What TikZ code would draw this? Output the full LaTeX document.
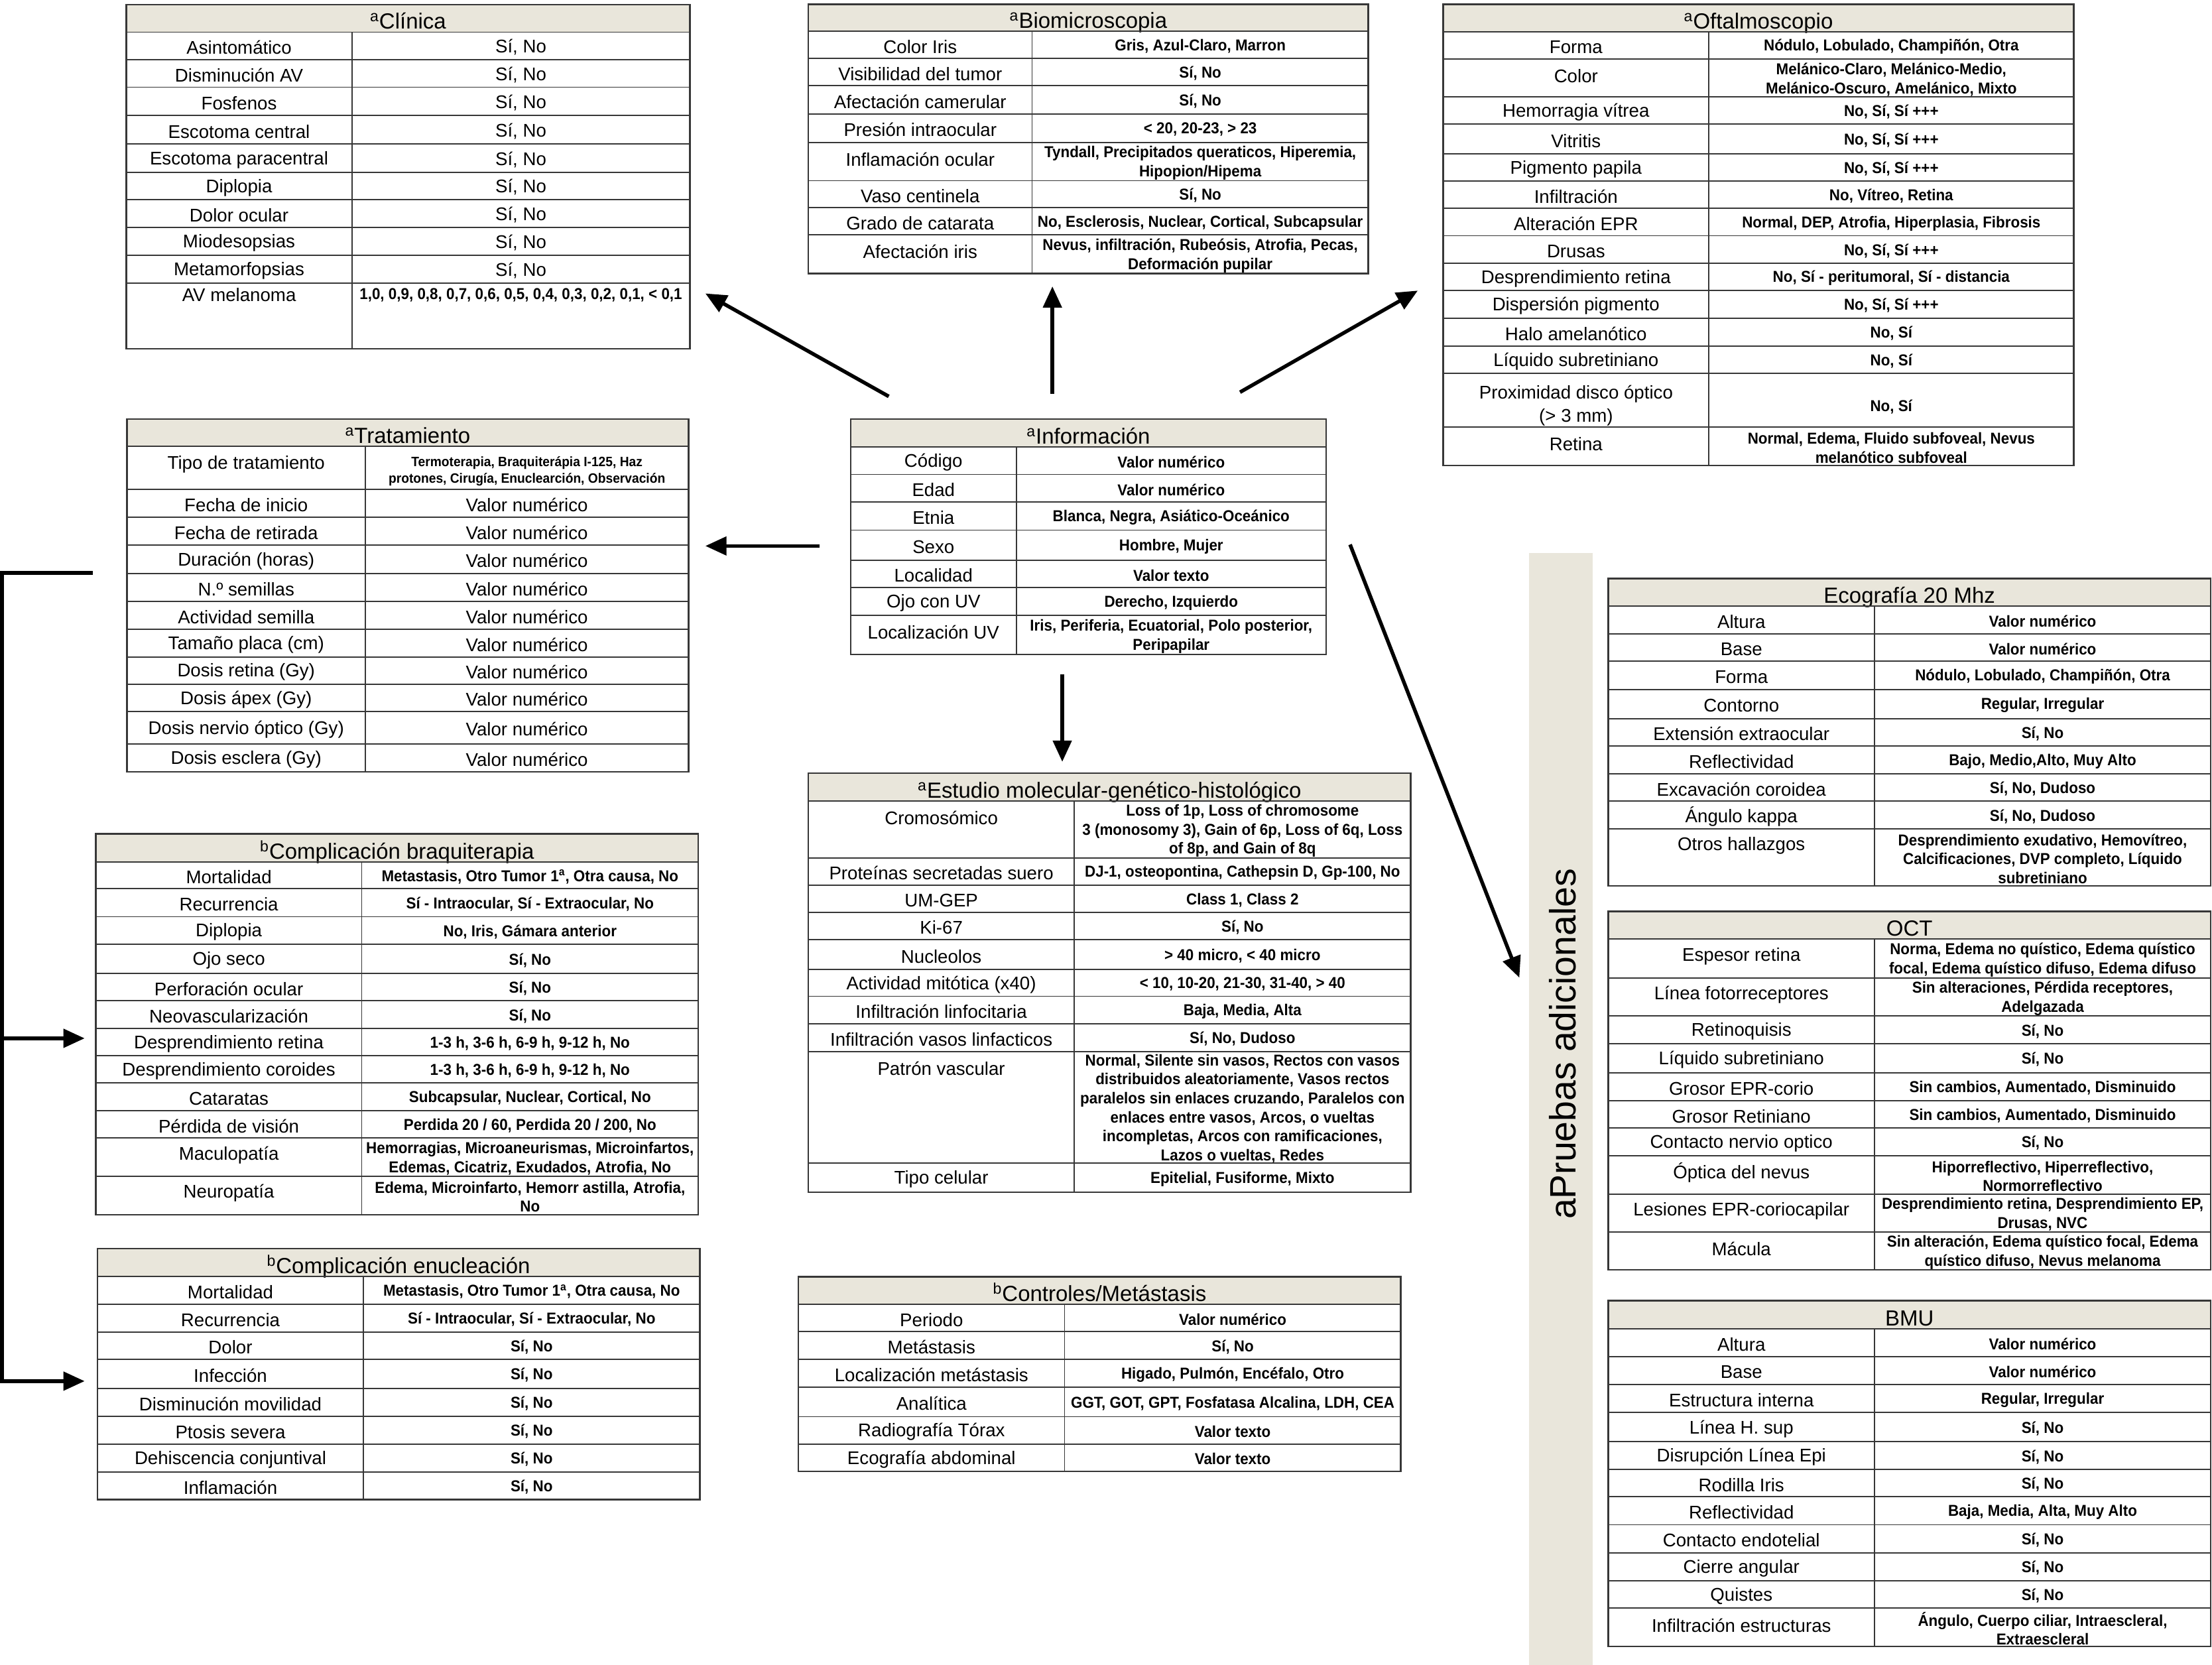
\documentclass[tikz,border=0pt]{standalone}
\usepackage{fontspec}
\setmainfont{Liberation Sans}
\newfontfamily\valfam{Liberation Sans}[FakeStretch=0.94]
\usetikzlibrary{arrows.meta}
\definecolor{hdr}{RGB}{233,230,219}
\definecolor{gridc}{RGB}{55,55,55}
\newcommand\rv{\fontsize{13}{16}\rmfamily\mdseries\selectfont}
% #1 name #2 xl #3 xdiv #4 xr #5 ytop #6 yhead #7 ybot #8 title #9 rows
\newcommand\tbl[9]{%
  \fill[hdr] (#2,#5) rectangle (#4,#6);
  \node[hdrtext] (#1-h) at ({(#2+#4)/2},{#6-2.2}) {#8};
  \draw[gridline] (#2,#6) -- (#4,#6);
  \foreach \ya/\yb/\lbl/\vlu [count=\i] in {#9}{%
    \draw[gridline] (#2,\ya) -- (#4,\ya);
    \pgfmathsetmacro\ly{(\yb-\ya>24) ? (\ya+12) : ((\ya+\yb)/2+1.2)}%
    \node[labtext] (#1-l\i) at ({(#2+#3)/2},\ly) {\lbl};
    \node[valtext] (#1-v\i) at ({(#3+#4)/2},{(\ya+\yb)/2+1}) {\vlu};
  }
  \draw[gridline] (#3,#6) -- (#3,#7);
  \draw[tbloutline] (#2,#5) rectangle (#4,#7);
}
\begin{document}
\begin{tikzpicture}[x=1pt,y=-1pt,
  hdrtext/.style={font=\fontsize{15.5}{18}\selectfont, anchor=base, inner sep=0pt},
  labtext/.style={font=\fontsize{13}{16}\selectfont, align=center, inner sep=0pt},
  valtext/.style={font=\valfam\fontsize{11.2}{13.4}\selectfont\bfseries, align=center, inner sep=0pt},
  smallval/.style={font=\valfam\fontsize{9.6}{12}\selectfont\bfseries, align=center, inner sep=0pt},
  gridline/.style={draw=gridc, line width=0.9pt},
  tbloutline/.style={draw=gridc, line width=1.2pt},
  arr/.style={line width=2.6pt, -{Triangle[length=15pt,width=13pt]}},
  sidetext/.style={font=\fontsize{26}{30}\selectfont, rotate=90, anchor=base, inner sep=0pt}]
\fill[white] (0,0) rectangle (1568,1180);
\useasboundingbox (0,0) rectangle (1568,1180);

% ---------------- Clínica
\tbl{clin}{89.5}{249.4}{489}{3.2}{22.8}{247.3}{\textsuperscript{a}Clínica}{
22.8/42.2/Asintomático/{\rv Sí, No},
42.2/61.8/Disminución AV/{\rv Sí, No},
61.8/81.8/Fosfenos/{\rv Sí, No},
81.8/102.2/Escotoma central/{\rv Sí, No},
102.2/122/Escotoma paracentral/{\rv Sí, No},
122/141.5/Diplopia/{\rv Sí, No},
141.5/161.3/Dolor ocular/{\rv Sí, No},
161.3/181/Miodesopsias/{\rv Sí, No},
181/200.5/Metamorfopsias/{\rv Sí, No}}
\draw[gridline] (89.5,200.5) -- (489,200.5);
\node[labtext] (clin-l10) at (169.5,209) {AV melanoma};
\node[valtext] (clin-v10) at (369.2,209) {1,0, 0,9, 0,8, 0,7, 0,6, 0,5, 0,4, 0,3, 0,2, 0,1, < 0,1};

% ---------------- Biomicroscopia
\tbl{bio}{573}{731.6}{970}{3}{22.2}{194}{\textsuperscript{a}Biomicroscopia}{
22.2/41.5/Color Iris/{Gris, Azul-Claro, Marron},
41.5/60.7/Visibilidad del tumor/{Sí, No},
60.7/80.7/Afectación camerular/{Sí, No},
80.7/101/Presión intraocular/{< 20, 20-23, > 23},
101/128.1/Inflamación ocular/{Tyndall, Precipitados queraticos, Hiperemia,\\Hipopion/Hipema},
128.1/147.3/Vaso centinela/{Sí, No},
147.3/166.5/Grado de catarata/{No, Esclerosis, Nuclear, Cortical, Subcapsular},
166.5/194/Afectación iris/{Nevus, infiltración, Rubeósis, Atrofia, Pecas,\\Deformación pupilar}}

% ---------------- Oftalmoscopio
\tbl{oft}{1023}{1211.3}{1470}{3}{22.5}{330}{\textsuperscript{a}Oftalmoscopio}{
22.5/41.9/Forma/{Nódulo, Lobulado, Champiñón, Otra},
41.9/68.8/Color/{Melánico-Claro, Melánico-Medio,\\Melánico-Oscuro, Amelánico, Mixto},
68.8/87.9/Hemorragia vítrea/{No, Sí, Sí +++},
87.9/109.2/Vitritis/{No, Sí, Sí +++},
109.2/128.5/Pigmento papila/{No, Sí, Sí +++},
128.5/147.8/Infiltración/{No, Vítreo, Retina},
147.8/167.1/Alteración EPR/{Normal, DEP, Atrofia, Hiperplasia, Fibrosis},
167.1/186.6/Drusas/{No, Sí, Sí +++},
186.6/205.7/Desprendimiento retina/{No, Sí - peritumoral, Sí - distancia},
205.7/225.5/Dispersión pigmento/{No, Sí, Sí +++},
225.5/245.4/Halo amelanótico/{No, Sí},
245.4/264.8/Líquido subretiniano/{No, Sí},
302.8/330/Retina/{Normal, Edema, Fluido subfoveal, Nevus\\melanótico subfoveal}}
\draw[gridline] (1023,264.8) -- (1470,264.8);
\node[labtext] (oft-l14) at (1117.2,287.5) {Proximidad disco óptico\\(> 3 mm)};
\node[valtext] (oft-v14) at (1340.6,288.5) {No, Sí};

% ---------------- Tratamiento
\tbl{trat}{90}{259}{488}{297}{316.5}{547}{\textsuperscript{a}Tratamiento}{
346.9/366.8/Fecha de inicio/{\rv Valor numérico},
366.8/386.3/Fecha de retirada/{\rv Valor numérico},
386.3/406.6/Duración (horas)/{\rv Valor numérico},
406.6/426.4/N.º semillas/{\rv Valor numérico},
426.4/446.1/Actividad semilla/{\rv Valor numérico},
446.1/465.6/Tamaño placa (cm)/{\rv Valor numérico},
465.6/484.9/Dosis retina (Gy)/{\rv Valor numérico},
484.9/504.5/Dosis ápex (Gy)/{\rv Valor numérico},
504.5/527.3/Dosis nervio óptico (Gy)/{\rv Valor numérico},
527.3/547/Dosis esclera (Gy)/{\rv Valor numérico}}
\node[labtext] (trat-l0) at (174.5,329) {Tipo de tratamiento};
\node[smallval] (trat-v0) at (373.5,334) {Termoterapia, Braquiterápia I-125, Haz\\protones, Cirugía, Enuclearción, Observación};

% ---------------- Información
\tbl{info}{603}{720.4}{940}{297}{316.8}{464}{\textsuperscript{a}Información}{
316.8/336.3/Código/{Valor numérico},
336.3/356/Edad/{Valor numérico},
356/375.8/Etnia/{Blanca, Negra, Asiático-Oceánico},
375.8/397.1/Sexo/{Hombre, Mujer},
397.1/416.4/Localidad/{Valor texto},
416.4/436.2/Ojo con UV/{Derecho, Izquierdo},
436.2/464/Localización UV/{Iris, Periferia, Ecuatorial, Polo posterior,\\Peripapilar}}

% ---------------- Complicación braquiterapia
\tbl{braq}{68}{256.4}{495}{591}{611}{861}{\textsuperscript{b}Complicación braquiterapia}{
611/630/Mortalidad/{Metastasis, Otro Tumor 1\textsuperscript{a}, Otra causa, No},
630/649.8/Recurrencia/{Sí - Intraocular, Sí - Extraocular, No},
649.8/669.3/Diplopia/{No, Iris, Gámara anterior},
669.3/690/Ojo seco/{Sí, No},
690/709.4/Perforación ocular/{Sí, No},
709.4/729/Neovascularización/{Sí, No},
729/748.3/Desprendimiento retina/{1-3 h, 3-6 h, 6-9 h, 9-12 h, No},
748.3/767.7/Desprendimiento coroides/{1-3 h, 3-6 h, 6-9 h, 9-12 h, No},
767.7/787.3/Cataratas/{Subcapsular, Nuclear, Cortical, No},
787.3/806.7/Pérdida de visión/{Perdida 20 / 60, Perdida 20 / 200, No},
806.7/833.8/Maculopatía/{Hemorragias, Microaneurismas, Microinfartos,\\Edemas, Cicatriz, Exudados, Atrofia, No},
833.8/861/Neuropatía/{Edema, Microinfarto, Hemorr astilla, Atrofia,\\No}}

% ---------------- Estudio molecular
\tbl{est}{573}{761.5}{1000}{548}{567.9}{845}{\textsuperscript{a}Estudio molecular-genético-histológico}{
567.9/608/Cromosómico/{Loss of 1p, Loss of chromosome\\3 (monosomy 3), Gain of 6p, Loss of 6q, Loss\\of 8p, and Gain of 8q},
608/627.3/Proteínas secretadas suero/{DJ-1, osteopontina, Cathepsin D, Gp-100, No},
627.3/646.6/UM-GEP/{Class 1, Class 2},
646.6/666.2/Ki-67/{Sí, No},
666.2/687.1/Nucleolos/{> 40 micro, < 40 micro},
687.1/706.2/Actividad mitótica (x40)/{< 10, 10-20, 21-30, 31-40, > 40},
706.2/725.7/Infiltración linfocitaria/{Baja, Media, Alta},
725.7/745.3/Infiltración vasos linfacticos/{Sí, No, Dudoso},
745.3/824.4/Patrón vascular/{Normal, Silente sin vasos, Rectos con vasos\\distribuidos aleatoriamente, Vasos rectos\\paralelos sin enlaces cruzando, Paralelos con\\enlaces entre vasos, Arcos, o vueltas\\incompletas, Arcos con ramificaciones,\\Lazos o vueltas, Redes},
824.4/845/Tipo celular/{Epitelial, Fusiforme, Mixto}}

% ---------------- Complicación enucleación
\tbl{enuc}{69}{257.7}{496}{885}{904.7}{1063}{\textsuperscript{b}Complicación enucleación}{
904.7/924.4/Mortalidad/{Metastasis, Otro Tumor 1\textsuperscript{a}, Otra causa, No},
924.4/944.1/Recurrencia/{Sí - Intraocular, Sí - Extraocular, No},
944.1/963.4/Dolor/{Sí, No},
963.4/984.2/Infección/{Sí, No},
984.2/1003.9/Disminución movilidad/{Sí, No},
1003.9/1023.6/Ptosis severa/{Sí, No},
1023.6/1043.3/Dehiscencia conjuntival/{Sí, No},
1043.3/1063/Inflamación/{Sí, No}}

% ---------------- Controles/Metástasis
\tbl{ctrl}{566}{754.6}{993}{905}{924.7}{1043}{\textsuperscript{b}Controles/Metástasis}{
924.7/944/Periodo/{Valor numérico},
944/963.7/Metástasis/{Sí, No},
963.7/983.2/Localización metástasis/{Higado, Pulmón, Encéfalo, Otro},
983.2/1004.2/Analítica/{GGT, GOT, GPT, Fosfatasa Alcalina, LDH, CEA},
1004.2/1023.5/Radiografía Tórax/{Valor texto},
1023.5/1043/Ecografía abdominal/{Valor texto}}

% ---------------- Pruebas adicionales sidebar
\fill[hdr] (1084,392) rectangle (1129,1180);
\node[sidetext] (side) at (1117,740) {aPruebas adicionales};

% ---------------- Ecografía 20 Mhz
\tbl{eco}{1140}{1328.8}{1567}{410}{429.7}{628}{Ecografía 20 Mhz}{
429.7/449.2/Altura/{Valor numérico},
449.2/468.7/Base/{Valor numérico},
468.7/488.7/Forma/{Nódulo, Lobulado, Champiñón, Otra},
488.7/509.3/Contorno/{Regular, Irregular},
509.3/528.8/Extensión extraocular/{Sí, No},
528.8/548.5/Reflectividad/{Bajo, Medio,Alto, Muy Alto},
548.5/567.9/Excavación coroidea/{Sí, No, Dudoso},
567.9/587.6/Ángulo kappa/{Sí, No, Dudoso},
587.6/628/Otros hallazgos/{Desprendimiento exudativo, Hemovítreo,\\Calcificaciones, DVP completo, Líquido\\subretiniano}}

% ---------------- OCT
\tbl{oct}{1140}{1328.8}{1567}{646}{665.7}{900}{OCT}{
665.7/693.2/Espesor retina/{Norma, Edema no quístico, Edema quístico\\focal, Edema quístico difuso, Edema difuso},
693.2/720.2/Línea fotorreceptores/{Sin alteraciones, Pérdida receptores,\\Adelgazada},
720.2/739.7/Retinoquisis/{Sí, No},
739.7/760.3/Líquido subretiniano/{Sí, No},
760.3/780.3/Grosor EPR-corio/{Sin cambios, Aumentado, Disminuido},
780.3/799.6/Grosor Retiniano/{Sin cambios, Aumentado, Disminuido},
799.6/819.1/Contacto nervio optico/{Sí, No},
819.1/846.3/Óptica del nevus/{Hiporreflectivo, Hiperreflectivo,\\Normorreflectivo},
846.3/873.3/Lesiones EPR-coriocapilar/{Desprendimiento retina, Desprendimiento EP,\\Drusas, NVC},
873.3/900/Mácula/{Sin alteración, Edema quístico focal, Edema\\quístico difuso, Nevus melanoma}}

% ---------------- BMU
\tbl{bmu}{1140}{1328.8}{1567}{922}{942}{1167}{BMU}{
942/961.6/Altura/{Valor numérico},
961.6/981.2/Base/{Valor numérico},
981.2/1001.2/Estructura interna/{Regular, Irregular},
1001.2/1021.9/Línea H. sup/{Sí, No},
1021.9/1041.5/Disrupción Línea Epi/{Sí, No},
1041.5/1061/Rodilla Iris/{Sí, No},
1061/1080.8/Reflectividad/{Baja, Media, Alta, Muy Alto},
1080.8/1100.6/Contacto endotelial/{Sí, No},
1100.6/1120.5/Cierre angular/{Sí, No},
1120.5/1140/Quistes/{Sí, No},
1140/1167/Infiltración estructuras/{Ángulo, Cuerpo ciliar, Intraescleral,\\Extraescleral}}

% ---------------- connectors
\coordinate (s-ul) at (630,281);   \coordinate (e-ul) at (500,208);
\coordinate (s-up) at (746,279);   \coordinate (e-up) at (746,203);
\coordinate (s-ur) at (879,278);   \coordinate (e-ur) at (1005,206);
\coordinate (s-l)  at (581,387);   \coordinate (e-l)  at (500,387);
\coordinate (s-dn) at (753,478);   \coordinate (e-dn) at (753,540);
\coordinate (s-dr) at (957,386);   \coordinate (e-dr) at (1077,693);
\draw[arr] (s-ul) -- (e-ul);
\draw[arr] (s-up) -- (e-up);
\draw[arr] (s-ur) -- (e-ur);
\draw[arr] (s-l) -- (e-l);
\draw[arr] (s-dn) -- (e-dn);
\draw[arr] (s-dr) -- (e-dr);

\coordinate (br-top) at (66,406);
\coordinate (br-c1) at (1.5,406);
\coordinate (br-mid) at (1.5,736);
\coordinate (e-braq) at (60,736);
\coordinate (e-enuc) at (60,979);
\draw[arr] (br-top) -- (br-c1) |- (e-enuc);
\draw[arr] (br-mid) -- (e-braq);
\end{tikzpicture}
\end{document}
